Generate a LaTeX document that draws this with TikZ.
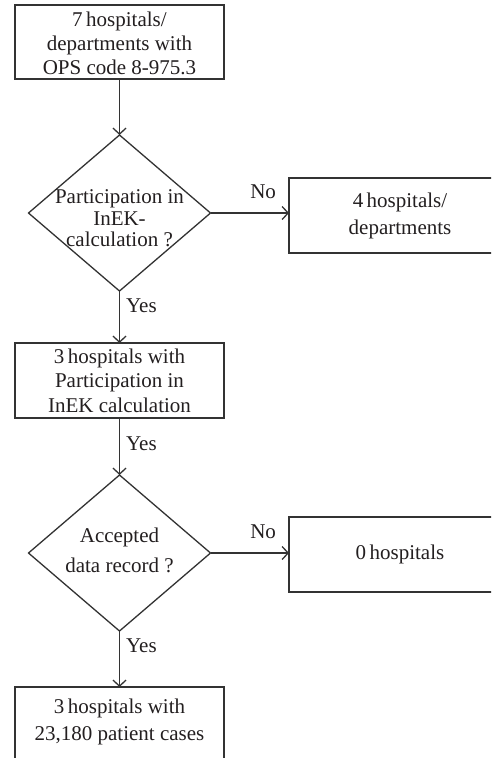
\documentclass[tikz,border=0pt]{standalone}
\usepackage{fontspec}
\setmainfont{Liberation Serif}
\usetikzlibrary{shapes.geometric,arrows.meta}
\definecolor{ink}{HTML}{231F20}
\definecolor{edge}{HTML}{333333}
\newcommand{\stacklines}[2]{\raisebox{#1}[0pt][0pt]{\makebox[0pt]{\begin{tabular}{@{}c@{}}#2\end{tabular}}}}
\begin{document}
\begin{tikzpicture}[x=1pt,y=-1pt,
  every node/.style={text=ink},
  boxnode/.style={draw=edge, line width=1.3pt, rectangle, inner sep=0pt, outer sep=0pt, align=center,
    font=\fontsize{21}{24.5}\selectfont},
  decision/.style={draw=edge, line width=1.3pt, diamond, inner sep=0pt, outer sep=0pt,
    minimum width=182pt, minimum height=156pt, font=\fontsize{21}{21.5}\selectfont},
  lbl/.style={font=\fontsize{21}{24}\selectfont, inner sep=0pt},
  flow/.style={draw=edge, line width=1.3pt, -{Straight Barb[length=6pt,width=13pt,line width=1.3pt]}}
]
\clip (0,0) rectangle (491,758);
\fill[white] (0,0) rectangle (491,758);

\node[boxnode, minimum width=209pt, minimum height=74pt, font=\fontsize{21}{24}\selectfont] (b1) at (119.5,42)
  {\stacklines{-8.5pt}{7\,hospitals/\\departments with\\OPS code 8-975.3}};
\node[decision] (d1) at (119.5,213)
  {\stacklines{-13pt}{Participation in\\InEK-\\calculation ?}};
\node[boxnode, minimum width=222pt, minimum height=75pt, font=\fontsize{21}{27}\selectfont] (r1) at (400,215.5)
  {4\,hospitals/\\departments};
\node[boxnode, minimum width=209pt, minimum height=75pt] (b2) at (119.5,380.5)
  {3\,hospitals with\\Participation in\\InEK calculation};
\node[decision, font=\fontsize{21}{30}\selectfont] (d2) at (119.5,553)
  {\stacklines{-4pt}{Accepted\\data record ?}};
\node[boxnode, minimum width=222pt, minimum height=75pt] (r2) at (400,554.5)
  {0\,hospitals};
\node[boxnode, minimum width=209pt, anchor=north, inner ysep=7pt, font=\fontsize{21}{27.5}\selectfont] (b3) at (119.5,687)
  {\begin{tabular}{@{}c@{}}3\,hospitals with\\23,180 patient cases\end{tabular}\rule[-50pt]{0pt}{50pt}};

\draw[flow] (b1.south) -- (d1.north);
\draw[flow] (d1.east) -- node[lbl, pos=0.67, above=14pt] {No} (d1.east -| r1.west);
\draw[flow] (d1.south) -- node[lbl, pos=0.29, right=6pt] {Yes} (b2.north);
\draw[flow] (b2.south) -- node[lbl, pos=0.45, right=6pt] {Yes} (d2.north);
\draw[flow] (d2.east) -- node[lbl, pos=0.67, above=14pt] {No} (d2.east -| r2.west);
\draw[flow] (d2.south) -- node[lbl, pos=0.27, right=6pt] {Yes} (b3.north);
\end{tikzpicture}
\end{document}
